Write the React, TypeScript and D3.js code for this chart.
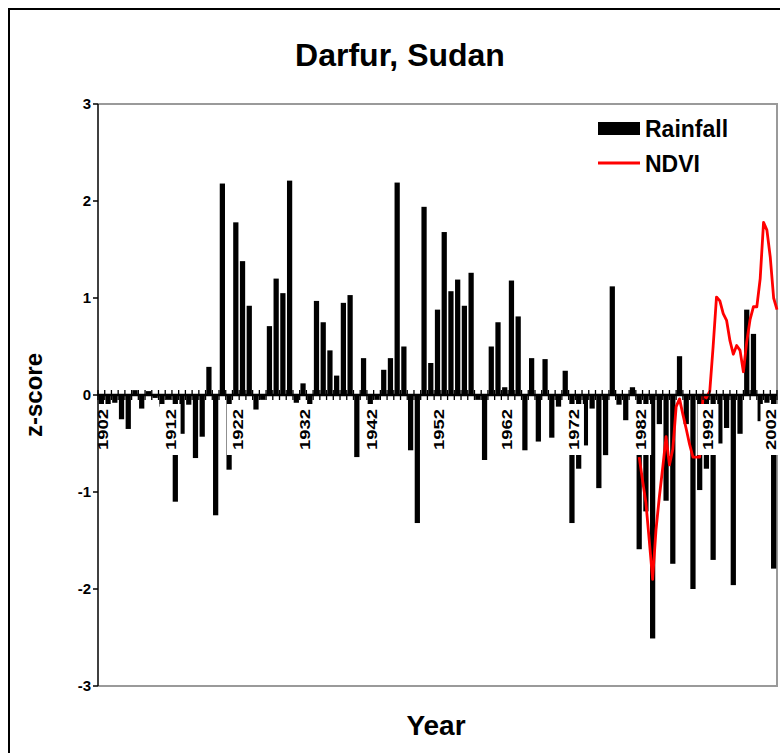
import * as d3 from 'd3';

// rainfall z-scores, one bar per year 1902..2002
const years = d3.range(1902, 2003);
const rainfall = [
  -0.1, -0.1, -0.08, -0.25, -0.35, 0.05, -0.14, 0.04, -0.03, -0.12,
  -0.05, -1.1, -0.4, -0.1, -0.65, -0.43, 0.29, -1.24, 2.18, -0.77,
  1.78, 1.38, 0.92, -0.15, -0.05, 0.71, 1.2, 1.05, 2.21, -0.08,
  0.12, -0.12, 0.97, 0.75, 0.46, 0.2, 0.95, 1.03, -0.64, 0.38,
  -0.12, -0.05, 0.26, 0.38, 2.19, 0.5, -0.57, -1.32, 1.94, 0.33,
  0.88, 1.68, 1.07, 1.19, 0.92, 1.26, -0.05, -0.67, 0.5, 0.75,
  0.08, 1.18, 0.81, -0.57, 0.38, -0.48, 0.37, -0.44, -0.12, 0.25,
  -1.32, -0.76, -0.52, -0.14, -0.96, -0.62, 1.12, -0.1, -0.26, 0.08,
  -1.59, -1.2, -2.51, -0.3, -1.09, -1.74, 0.4, -0.3, -2.0, -0.98,
  -0.76, -1.7, -0.5, -0.34, -1.96, -0.4, 0.88, 0.63, -0.27, -0.08,
  -1.79,
];

// NDVI z-scores, half-yearly from 1982
const ndviTime = d3.range(1982, 2003, 0.5);
const ndvi = [
  -0.64, -0.88, -1.11, -1.5, -1.9, -1.39, -1.05, -0.75, -0.43, -0.72,
  -0.56, -0.12, -0.04, -0.2, -0.35, -0.51, -0.64, -0.64, -0.64, 0.0,
  -0.03, 0.04, 0.5, 1.01, 0.97, 0.84, 0.77, 0.56, 0.42, 0.51,
  0.46, 0.24, 0.55, 0.78, 0.91, 0.91, 1.2, 1.78, 1.7, 1.42,
  1.0, 0.88,
];

const yTicks = [3, 2, 1, 0, -1, -2, -3];
const labelYears = [1902, 1912, 1922, 1932, 1942, 1952, 1962, 1972, 1982, 1992, 2002];

const FONT = "'Liberation Sans', Arial, sans-serif";

export default function App() {
  const left = 98;
  const right = 777;
  const top = 104;
  const bottom = 686;

  const x = d3.scaleBand<number>().domain(years).range([left, right]).paddingInner(0.22).paddingOuter(0.11);
  const y = d3.scaleLinear().domain([-3, 3]).range([bottom, top]);
  const bw = x.bandwidth();
  const step = x.step();
  const cx = (yr: number) => (x(yr) as number) + bw / 2;
  const xt = d3.scaleLinear().domain([1902, 2002]).range([cx(1902), cx(2002)]);
  const y0 = y(0);

  const line = d3
    .line<number>()
    .x((_, i) => xt(ndviTime[i]))
    .y((d) => y(d));

  return (
    <svg width={780} height={753} style={{ position: 'absolute', left: 0, top: 0, background: '#fff' }} fontFamily={FONT}>
      <rect x={9} y={9} width={820} height={800} fill="#fff" stroke="#000" strokeWidth={2} />

      <text x={400} y={66} textAnchor="middle" fontSize={32} fontWeight="bold">
        Darfur, Sudan
      </text>

      {/* plot frame */}
      <path d={`M${left},${top}H${right}V${bottom}H${left}`} fill="none" stroke="#9a9a9a" strokeWidth={2} />

      {/* bars */}
      <g fill="#000">
        {years.map((yr, i) => (
          <rect
            key={yr}
            x={x(yr)}
            y={Math.min(y(rainfall[i]), y0)}
            width={bw}
            height={Math.abs(y(rainfall[i]) - y0)}
          />
        ))}
      </g>

      {/* NDVI */}
      <path d={line(ndvi) ?? ''} fill="none" stroke="#ff0000" strokeWidth={2.8} strokeLinejoin="round" />

      {/* category axis at zero */}
      <line x1={left} x2={right} y1={y0} y2={y0} stroke="#000" strokeWidth={2.5} />
      <g stroke="#000" strokeWidth={1.3}>
        {d3.range(years.length + 1).map((i) => (
          <line key={i} x1={left + i * step} x2={left + i * step} y1={y0 - 5} y2={y0 + 5} />
        ))}
      </g>
      {labelYears.map((yr) => {
        const lx = Math.min(cx(yr) + 1.5, right - 6);
        return (
          <g key={yr}>
            <rect x={lx - 10.5} y={404} width={21} height={51} fill="#fff" />
            <text
              transform={`translate(${lx},409) rotate(-90)`}
              textAnchor="end"
              dy="0.35em"
              fontSize={15.5}
              fontWeight="bold"
              textLength={41}
              lengthAdjust="spacingAndGlyphs"
            >
              {yr}
            </text>
          </g>
        );
      })}

      {/* value axis */}
      <line x1={left} x2={left} y1={top} y2={bottom} stroke="#000" strokeWidth={1.5} />
      {yTicks.map((t) => (
        <g key={t}>
          <line x1={left - 5} x2={left} y1={y(t)} y2={y(t)} stroke="#000" strokeWidth={1.5} />
          <text x={left - 7} y={y(t)} dy="0.35em" textAnchor="end" fontSize={15} fontWeight="bold">
            {t}
          </text>
        </g>
      ))}

      <text transform={`translate(42,${(top + bottom) / 2}) rotate(-90)`} textAnchor="middle" fontSize={24} fontWeight="bold">
        z-score
      </text>
      <text x={436} y={735} textAnchor="middle" fontSize={28} fontWeight="bold">
        Year
      </text>

      {/* legend */}
      <rect x={598} y={122} width={42} height={13} fill="#000" />
      <text x={645} y={137} fontSize={23} fontWeight="bold">
        Rainfall
      </text>
      <line x1={598} x2={640} y1={163} y2={163} stroke="#ff0000" strokeWidth={3} />
      <text x={645} y={172} fontSize={23} fontWeight="bold">
        NDVI
      </text>
    </svg>
  );
}
